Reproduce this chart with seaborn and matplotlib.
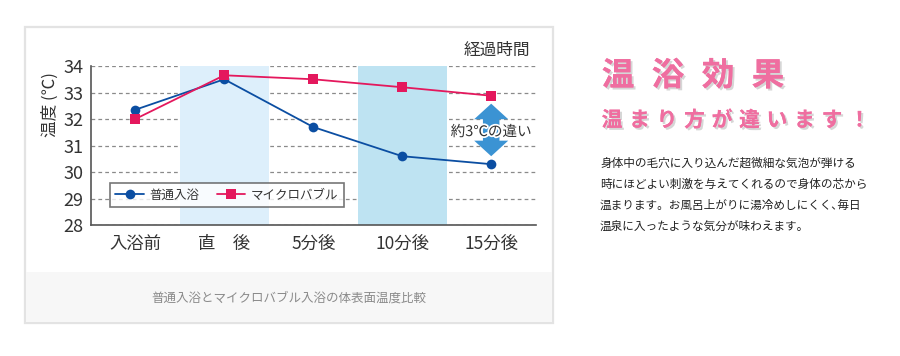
import pandas as pd
import seaborn as sns
import matplotlib.pyplot as plt
import matplotlib.patheffects as pe
from matplotlib.patches import Rectangle
from matplotlib.ticker import FixedLocator

# data
categories = ['入浴前', '直　後', '5分後', '10分後', '15分後']
normal_bath = [32.35, 33.5, 31.7, 30.6, 30.3]
micro_bubble = [32.0, 33.65, 33.5, 33.2, 32.88]
series_names = ['普通入浴', 'マイクロバブル']
highlighted = ['直　後', '10分後']

title_chars = list('温浴効果')
subtitle_chars = list('温まり方が違います！')
body_lines = [
    '身体中の毛穴に入り込んだ超微細な気泡が弾ける',
    '時にほどよい刺激を与えてくれるので身体の芯から',
    '温まります。お風呂上がりに湯冷めしにくく､毎日',
    '温泉に入ったような気分が味わえます。',
]

sns.set_theme(style='white')
plt.rcParams['font.family'] = ['Noto Sans CJK JP', 'DejaVu Sans']

W, H = 900, 356


def fx(px):
    return px / W


def fy(py):
    return 1 - py / H


fig = plt.figure(figsize=(9, 3.56), dpi=100)
fig.patch.set_facecolor('white')

# panel + footer
fig.patches.append(Rectangle((fx(25), fy(323)), 528 / W, 296 / H, transform=fig.transFigure,
                             facecolor='white', edgecolor='#e3e3e3', lw=1.6, zorder=-2))
fig.patches.append(Rectangle((fx(26), fy(322)), 526 / W, 50 / H, transform=fig.transFigure,
                             facecolor='#f7f7f7', edgecolor='none', zorder=-1))

ax = fig.add_axes([fx(90.7), fy(225.2), 445 / W, 159.2 / H])
ax.set_zorder(1)

pos = [i + 0.5 for i in range(len(categories))]
df = pd.DataFrame({
    'pos': pos * 2,
    'temp': normal_bath + micro_bubble,
    'series': [series_names[0]] * len(pos) + [series_names[1]] * len(pos),
})

for c in highlighted:
    i = categories.index(c)
    ax.axvspan(i, i + 1, color='#ddeffb' if i == 1 else '#bee3f2', lw=0, zorder=1)

sns.lineplot(data=df, x='pos', y='temp', hue='series', style='series',
             palette={series_names[0]: '#0b4ea2', series_names[1]: '#e4185d'},
             markers={series_names[0]: 'o', series_names[1]: 's'}, dashes=False,
             markersize=7, markeredgewidth=0, lw=1.3, ax=ax, zorder=3)

ax.set_xlim(0, len(categories))
ax.set_ylim(28, 34)
ax.set_yticks(range(28, 35))
ax.set_xticks(pos)
ax.set_xticklabels(categories)
ax.xaxis.set_minor_locator(FixedLocator(range(1, len(categories) + 1)))
ax.tick_params(axis='x', which='major', length=0, pad=7, labelsize=12.5, labelcolor='#333333')
ax.tick_params(axis='x', which='minor', direction='in', length=5, width=1.1, color='#555555')
ax.tick_params(axis='y', length=3, width=1, color='#555555', pad=2.5, labelsize=13, labelcolor='#333333')
ax.set_xlabel('')
ax.set_ylabel('')
ax.set_axisbelow(True)
ax.yaxis.grid(True, linestyle=(0, (3, 2.5)), color='#8a8a8a', lw=0.9)
ax.xaxis.grid(False)
for s in ['top', 'right']:
    ax.spines[s].set_visible(False)
for s in ['left', 'bottom']:
    ax.spines[s].set_color('#555555')
    ax.spines[s].set_linewidth(1.2)

handles, labels = ax.get_legend_handles_labels()
leg = ax.legend(handles, labels, loc='lower left', bbox_to_anchor=(0.043, 0.113), borderaxespad=0,
                ncol=2, fontsize=9, frameon=True, fancybox=False, handlelength=2.3,
                columnspacing=1.4, borderpad=0.45, handletextpad=0.4)
leg.get_frame().set_edgecolor('#555555')
leg.get_frame().set_linewidth(1.2)
leg.set_zorder(5)
for t in leg.get_texts():
    t.set_color('#333333')

# difference arrow at the last category
x_last = pos[-1]
top = micro_bubble[-1] - 0.3
bottom = normal_bath[-1] + 0.3
mid = (top + bottom) / 2
arrow_style = 'simple,head_length=0.8,head_width=1.75,tail_width=0.85'
for end in (top, bottom):
    ax.annotate('', xy=(x_last, end), xytext=(x_last, mid),
                arrowprops=dict(arrowstyle=arrow_style, color='#3b93d3', lw=0,
                                mutation_scale=14, shrinkA=0, shrinkB=0), zorder=4)
ax.text(x_last, mid - 0.08, '約3℃の違い', ha='center', va='center', fontsize=10.5, color='#333333', zorder=6,
        path_effects=[pe.withStroke(linewidth=2.5, foreground='white')])

fig.text(fx(50), fy(105), '温度 (℃)', rotation=90, ha='center', va='center', fontsize=12, color='#333333')
fig.text(fx(497), fy(50), '経過時間', ha='center', va='center', fontsize=12, color='#333333')
fig.text(fx(289), fy(298), '普通入浴とマイクロバブル入浴の体表面温度比較', ha='center', va='center',
         fontsize=9, color='#8a8a8a')

# right side copy
shadow = [pe.withSimplePatchShadow(offset=(1.5, -1.5), shadow_rgbFace='#bbbbbb', alpha=0.6), pe.Normal()]
for i, ch in enumerate(title_chars):
    fig.text(fx(618 + 50 * i), fy(76), ch, ha='center', va='center', fontsize=23.5, fontweight='bold',
             color='#ef6ea0', path_effects=shadow)
for i, ch in enumerate(subtitle_chars):
    fig.text(fx(612 + 27.5 * i), fy(120), ch, ha='center', va='center', fontsize=15, fontweight='bold',
             color='#ef6ea0', path_effects=shadow)
for i, line in enumerate(body_lines):
    fig.text(fx(600), fy(163 + 21 * i), line, ha='left', va='center', fontsize=8.4, color='#222222')

plt.savefig('out.png', dpi=100)
plt.close()
